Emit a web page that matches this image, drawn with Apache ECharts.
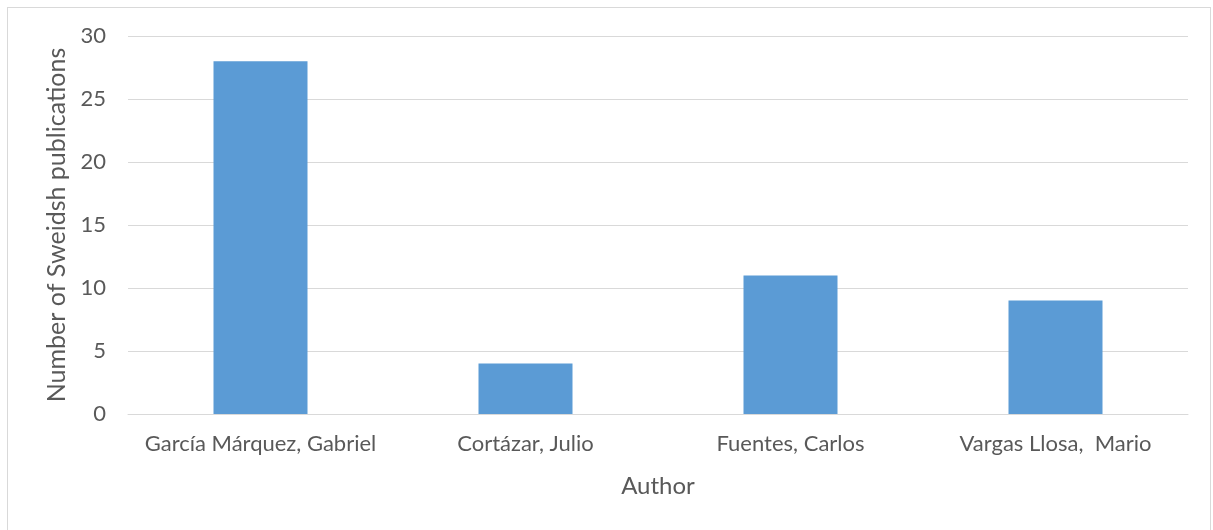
<!DOCTYPE html>
<html>
<head>
<meta charset="utf-8">
<script src="https://cdn.jsdelivr.net/npm/echarts@6/dist/echarts.min.js"></script>
<style>
  html, body { margin: 0; padding: 0; background: #fff; }
  #frame { position: absolute; left: 7px; top: 7px; width: 1204px; height: 530px; border: 1px solid #d9d9d9; box-sizing: border-box; }
  #chart { position: absolute; left: 0; top: 0; width: 1213px; height: 530px; }
</style>
</head>
<body>
<div id="frame"></div>
<div id="chart"></div>
<script>
var authors = ['García Márquez, Gabriel', 'Cortázar, Julio', 'Fuentes, Carlos', 'Vargas Llosa,  Mario'];
var publications = [28, 4, 11, 9];
var yTicks = { min: 0, max: 30, interval: 5 };

var textColor = '#595959';
var fontFamily = 'Lato, sans-serif';

var chart = echarts.init(document.getElementById('chart'));
chart.setOption({
    animation: false,
    grid: { left: 128, right: 25, top: 36, bottom: 116 },
    xAxis: {
        type: 'category',
        data: authors,
        name: 'Author',
        nameLocation: 'middle',
        nameGap: 60,
        nameTextStyle: { color: textColor, fontSize: 24, fontFamily: fontFamily },
        axisLine: { lineStyle: { color: '#d9d9d9', width: 1 } },
        axisTick: { show: false },
        axisLabel: { color: textColor, fontSize: 22, fontFamily: fontFamily, margin: 19, interval: 0 }
    },
    yAxis: {
        type: 'value',
        min: yTicks.min,
        max: yTicks.max,
        interval: yTicks.interval,
        name: 'Number of Sweidsh publications',
        nameLocation: 'middle',
        nameGap: 58,
        nameTextStyle: { color: textColor, fontSize: 25, fontFamily: fontFamily },
        axisLine: { show: false },
        axisTick: { show: false },
        axisLabel: { color: textColor, fontSize: 22, fontFamily: fontFamily, margin: 22 },
        splitLine: { lineStyle: { color: '#d9d9d9', width: 1 } }
    },
    series: [{
        type: 'bar',
        data: publications,
        barWidth: 94,
        itemStyle: { color: '#5b9bd5' }
    }]
});
</script>
</body>
</html>
